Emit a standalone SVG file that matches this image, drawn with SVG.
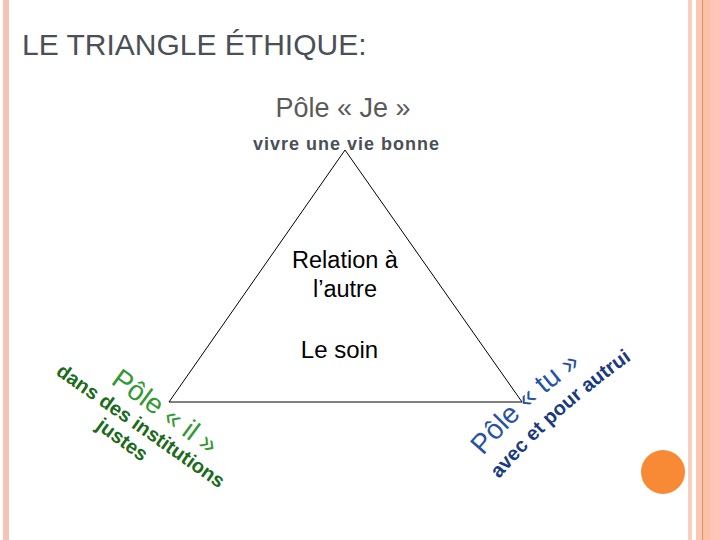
<svg xmlns="http://www.w3.org/2000/svg" width="720" height="540" viewBox="0 0 720 540">
<style>
.sans{font-family:"Liberation Sans",Arial,sans-serif}
.edge{fill:none;stroke:#000;stroke-width:1}
.dg{font-size:20px;font-weight:bold;fill:#1b6b1b}
.db{font-size:20px;font-weight:bold;fill:#1a3a80}
</style>
<defs>
<path id="arcTu" d="M483 456 Q527 404 586 362"/>
<path id="arcAvec" d="M499 479 Q558 411 634 358"/>
</defs>
<rect width="720" height="540" fill="#fff"/>
<g id="frame">
<rect x="3" y="0" width="6" height="540" fill="#f8c4b2"/>
<rect x="688" y="0" width="4" height="540" fill="#f9d0c0"/>
<rect x="696" y="0" width="6" height="540" fill="#fbc9b3"/>
<rect x="702" y="0" width="1" height="540" fill="#d9956f"/>
<rect x="703" y="0" width="7" height="540" fill="#fdbfa5"/>
<rect x="710" y="0" width="10" height="540" fill="#ffc6b8"/>
<circle cx="663" cy="472" r="22" fill="#f98a35"/>
</g>
<g id="title"><text class="sans" x="22" y="55" font-size="30" fill="#4b4f56">LE TRIANGLE ÉTHIQUE:</text></g>
<g id="connectors">
<path class="edge" d="M345 150 L169 402 L522 402 Z"/>
</g>
<g id="pole-je">
<text class="sans" x="343" y="117" font-size="27" fill="#5a5a5a" text-anchor="middle">Pôle « Je »</text>
<text class="sans" x="253" y="150" font-size="18" font-weight="bold" fill="#4b4f56" textLength="186" lengthAdjust="spacing">vivre une vie bonne</text>
</g>
<g id="centre">
<text class="sans" x="345" y="268" font-size="23.5" fill="#000" text-anchor="middle">Relation à</text>
<text class="sans" x="345" y="297" font-size="23.5" fill="#000" text-anchor="middle">l’autre</text>
<text class="sans" x="339.5" y="358" font-size="24" fill="#000" text-anchor="middle">Le soin</text>
</g>
<g id="pole-il">
<text class="sans" transform="translate(110 383) rotate(36)" font-size="28" fill="#339933">Pôle « il »</text>
<text class="sans dg" transform="translate(55 374) rotate(35)">dans des institutions</text>
<text class="sans dg" transform="translate(95 428) rotate(36)">justes</text>
</g>
<g id="pole-tu">
<text class="sans" font-size="28" fill="#2652a8"><textPath href="#arcTu">Pôle « tu »</textPath></text>
<text class="sans db"><textPath href="#arcAvec">avec et pour autrui</textPath></text>
</g>
</svg>
